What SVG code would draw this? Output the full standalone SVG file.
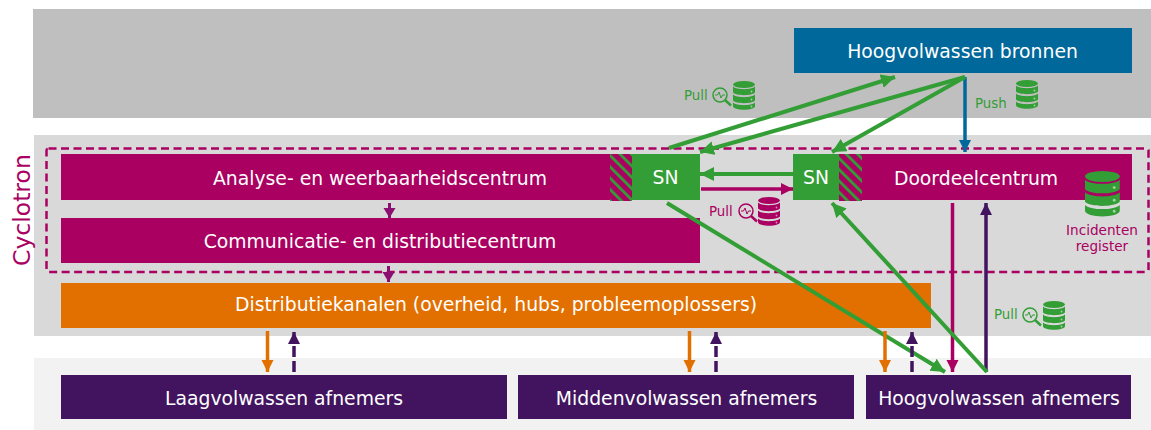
<svg xmlns="http://www.w3.org/2000/svg" width="1151" height="430" viewBox="0 0 1151 430">
<style>
text{font-family:"DejaVu Sans","Liberation Sans",sans-serif}
.t{fill:#fff;font-size:18.8px;text-anchor:middle}
.s{font-size:13.3px}
.g{stroke:#339e35;fill:none;stroke-width:4}
.gf{fill:#339e35}.mf{fill:#a90061}
.c{fill:none;stroke-width:3.5}
.d{fill:#fff;fill-opacity:.55}
</style>
<defs>
<pattern id="hatch" width="8" height="8" patternUnits="userSpaceOnUse" patternTransform="rotate(-45)"><rect width="8" height="8" fill="#a90061"/><rect width="2.800" height="8" fill="#339e35"/></pattern>
<marker id="ag" markerUnits="userSpaceOnUse" markerWidth="15" markerHeight="15" refX="14" refY="7" orient="auto"><path d="M0 0L14 7L0 14z" fill="#339e35"/></marker>
<marker id="am" markerUnits="userSpaceOnUse" markerWidth="14" markerHeight="14" refX="12" refY="6" orient="auto"><path d="M0 0L12 6L0 12z" fill="#a90061"/></marker>
<marker id="ab" markerUnits="userSpaceOnUse" markerWidth="14" markerHeight="14" refX="12" refY="6" orient="auto"><path d="M0 0L12 6L0 12z" fill="#01689b"/></marker>
<marker id="ap" markerUnits="userSpaceOnUse" markerWidth="14" markerHeight="14" refX="12" refY="6" orient="auto"><path d="M0 0L12 6L0 12z" fill="#42145f"/></marker>
<marker id="ao" markerUnits="userSpaceOnUse" markerWidth="14" markerHeight="14" refX="12" refY="6" orient="auto"><path d="M0 0L12 6L0 12z" fill="#e17000"/></marker>
<marker id="ax" markerUnits="userSpaceOnUse" markerWidth="14" markerHeight="14" refX="10" refY="6" orient="auto"><path d="M0 0L10 6L0 12z" fill="#8a0f70"/></marker>
<g id="db"><ellipse cx="11" cy="3.500" rx="11" ry="3.500"/><path d="M0 5.500C3 9 19 9 22 5.500V11.500C19 15 3 15 0 11.500z"/><path d="M0 13.500C3 17 19 17 22 13.500V19.500C19 23 3 23 0 19.500z"/><path d="M0 21.500C3 25 19 25 22 21.500V25C22 30 0 30 0 25z"/><circle class="d" cx="18.500" cy="10.500" r=".9"/><circle class="d" cx="18.500" cy="18.500" r=".9"/><circle class="d" cx="18.500" cy="25.500" r=".9"/></g>
<g id="lens" fill="none" stroke-width="1.500"><circle cx="8" cy="8" r="7"/><path d="M3 8H5.500L7 5L9 11L10.500 8H13" stroke-width="1"/><path d="M13 13L19 18.500" stroke-width="2.500"/></g>
</defs>
<g id="bands">
<rect x="33" y="9" width="1118" height="109" fill="#bfbfbf"/>
<rect x="34" y="135" width="1117" height="201" fill="#d9d9d9"/>
<rect x="34" y="358" width="1117" height="72" fill="#f2f2f2"/>
</g>
<g id="node-bronnen"><rect x="794" y="28" width="338" height="45" fill="#01689b"/><text class="t" x="962.500" y="57.500">Hoogvolwassen bronnen</text></g>
<g id="node-analyse"><rect x="61" y="154" width="549" height="46" class="mf"/><text class="t" x="380" y="184.500">Analyse- en weerbaarheidscentrum</text></g>
<g id="node-hatch1"><rect x="610" y="154" width="22" height="47" fill="url(#hatch)"/></g>
<g id="node-sn1"><rect x="632" y="154" width="68" height="46" class="gf"/><text class="t" x="665.500" y="184">SN</text></g>
<g id="node-sn2"><rect x="793" y="154" width="46" height="46" class="gf"/><text class="t" x="816" y="184">SN</text></g>
<g id="node-hatch2"><rect x="839" y="154" width="23" height="47" fill="url(#hatch)"/></g>
<g id="node-doordeel"><rect x="862" y="154" width="270" height="46" class="mf"/><text class="t" x="976" y="184.500">Doordeelcentrum</text></g>
<g id="node-comm"><rect x="61" y="218" width="639" height="45" class="mf"/><text class="t" x="380" y="247.500">Communicatie- en distributiecentrum</text></g>
<g id="node-distributie"><rect x="61" y="283" width="870" height="45" fill="#e17000"/><text class="t" x="496" y="311">Distributiekanalen (overheid, hubs, probleemoplossers)</text></g>
<g id="node-laag"><rect x="61" y="375" width="446" height="44" fill="#42145f"/><text class="t" x="284" y="404.500">Laagvolwassen afnemers</text></g>
<g id="node-midden"><rect x="518" y="375" width="336" height="44" fill="#42145f"/><text class="t" x="686.500" y="404.500">Middenvolwassen afnemers</text></g>
<g id="node-hoog"><rect x="866" y="375" width="265" height="44" fill="#42145f"/><text class="t" x="999" y="404.500">Hoogvolwassen afnemers</text></g>
<g id="cyclotron">
<rect x="46.500" y="148.500" width="1102" height="123.500" rx="2" fill="none" stroke="#a90061" stroke-width="2.500" stroke-dasharray="8 4.500"/>
<text transform="translate(30 266) rotate(-90)" font-size="23.500" fill="#a90061">Cyclotron</text>
</g>
<g id="connectors">
<path class="c" stroke="#01689b" d="M965 77V152" marker-end="url(#ab)"/>
<path class="c" stroke="#a90061" d="M952.500 203V372" marker-end="url(#am)"/>
<path class="c" stroke="#42145f" d="M986 372V203" marker-end="url(#ap)"/>
<path class="c" stroke="#a90061" d="M701 189H793" marker-end="url(#am)"/>
<path class="g" d="M793 174H700" marker-end="url(#ag)"/>
<path class="g" d="M669 148L895 77" marker-end="url(#ag)"/>
<path class="g" d="M965 77L700 152" marker-end="url(#ag)"/>
<path class="g" d="M965 77L832 152" marker-end="url(#ag)"/>
<path class="g" d="M667 203L945 372" marker-end="url(#ag)"/>
<path class="g" d="M987 372L832 203" marker-end="url(#ag)"/>
<path fill="none" stroke="#8a0f70" stroke-width="3" d="M389.500 203V218" marker-end="url(#ax)"/>
<path fill="none" stroke="#8a0f70" stroke-width="3" d="M388.500 266V282" marker-end="url(#ax)"/>
<path class="c" stroke="#e17000" d="M267.500 331V372" marker-end="url(#ao)"/>
<path class="c" stroke="#e17000" d="M689.500 331V372" marker-end="url(#ao)"/>
<path class="c" stroke="#e17000" d="M885 331V372" marker-end="url(#ao)"/>
<path class="c" stroke="#42145f" stroke-dasharray="11 4" d="M294 372V332" marker-end="url(#ap)"/>
<path class="c" stroke="#42145f" stroke-dasharray="11 4" d="M716 372V332" marker-end="url(#ap)"/>
<path class="c" stroke="#42145f" stroke-dasharray="11 4" d="M912 372V332" marker-end="url(#ap)"/>
</g>
<g id="label-pull1" fill="#339e35"><text class="s" x="684" y="100">Pull</text><use href="#lens" x="712" y="87" stroke="#339e35"/><use href="#db" x="733" y="81"/></g>
<g id="label-push" fill="#339e35"><text class="s" x="975" y="108">Push</text><use href="#db" x="1016" y="80"/></g>
<g id="label-pull2"><text class="s mf" x="709" y="216">Pull</text><use href="#lens" x="738" y="203" stroke="#a90061"/><use href="#db" class="mf" x="758" y="197"/></g>
<g id="label-pull3" fill="#339e35"><text class="s" x="994" y="319">Pull</text><use href="#lens" x="1022" y="307" stroke="#339e35"/><use href="#db" x="1043" y="301"/></g>
<g id="node-register">
<g transform="translate(1085 171) scale(1.580)" fill="#339e35"><use href="#db"/></g>
<text class="s mf" style="font-size:13.600px" text-anchor="middle" x="1102" y="235">Incidenten</text>
<text class="s mf" style="font-size:13.600px" text-anchor="middle" x="1102" y="251">register</text>
</g>
</svg>
